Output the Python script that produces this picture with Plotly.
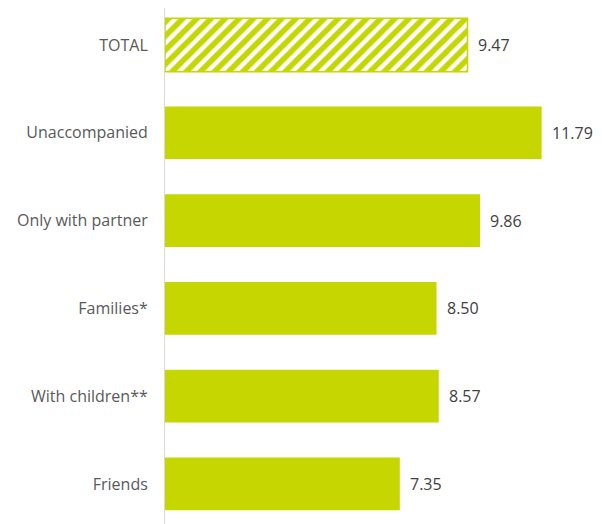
import plotly.graph_objects as go

categories = ["TOTAL", "Unaccompanied", "Only with partner", "Families*", "With children**", "Friends"]
values = [9.47, 11.79, 9.86, 8.50, 8.57, 7.35]
labels = ["9.47", "11.79", "9.86", "8.50", "8.57", "7.35"]

GREEN = "#c5d600"

fig = go.Figure()
fig.add_trace(go.Bar(
    y=categories[:1], x=values[:1], orientation="h", width=0.61,
    marker=dict(color="white", line=dict(color=GREEN, width=1.5),
                pattern=dict(shape="/", fgcolor=GREEN, bgcolor="white", size=10,
                             solidity=0.55, fgopacity=1)),
    hoverinfo="skip",
))
fig.add_trace(go.Bar(
    y=categories[1:], x=values[1:], orientation="h", width=0.6,
    marker=dict(color=GREEN, line=dict(width=0)),
    hoverinfo="skip",
))
for c, v, t in zip(categories, values, labels):
    fig.add_annotation(x=v, y=c, text=t, xanchor="left", showarrow=False, xshift=8,
                       font=dict(size=16, color="#404040", family="Open Sans"))

fig.update_layout(
    width=594, height=516,
    margin=dict(l=157, r=0, t=0, b=0, autoexpand=False),
    paper_bgcolor="white", plot_bgcolor="white",
    showlegend=False, barmode="overlay",
    font=dict(family="Open Sans", size=16, color="#595959"),
    xaxis=dict(range=[0, 13.68], showgrid=False, zeroline=False, showticklabels=False, showline=False),
    yaxis=dict(categoryorder="array", categoryarray=categories[::-1], range=[-0.456, 5.421],
               showgrid=False, zeroline=False,
               showline=True, linecolor="#d9d9d9", linewidth=1, ticks="", ticklabelstandoff=13,
               tickfont=dict(size=16, color="#595959", family="Open Sans")),
)
fig.write_html("out.html")
